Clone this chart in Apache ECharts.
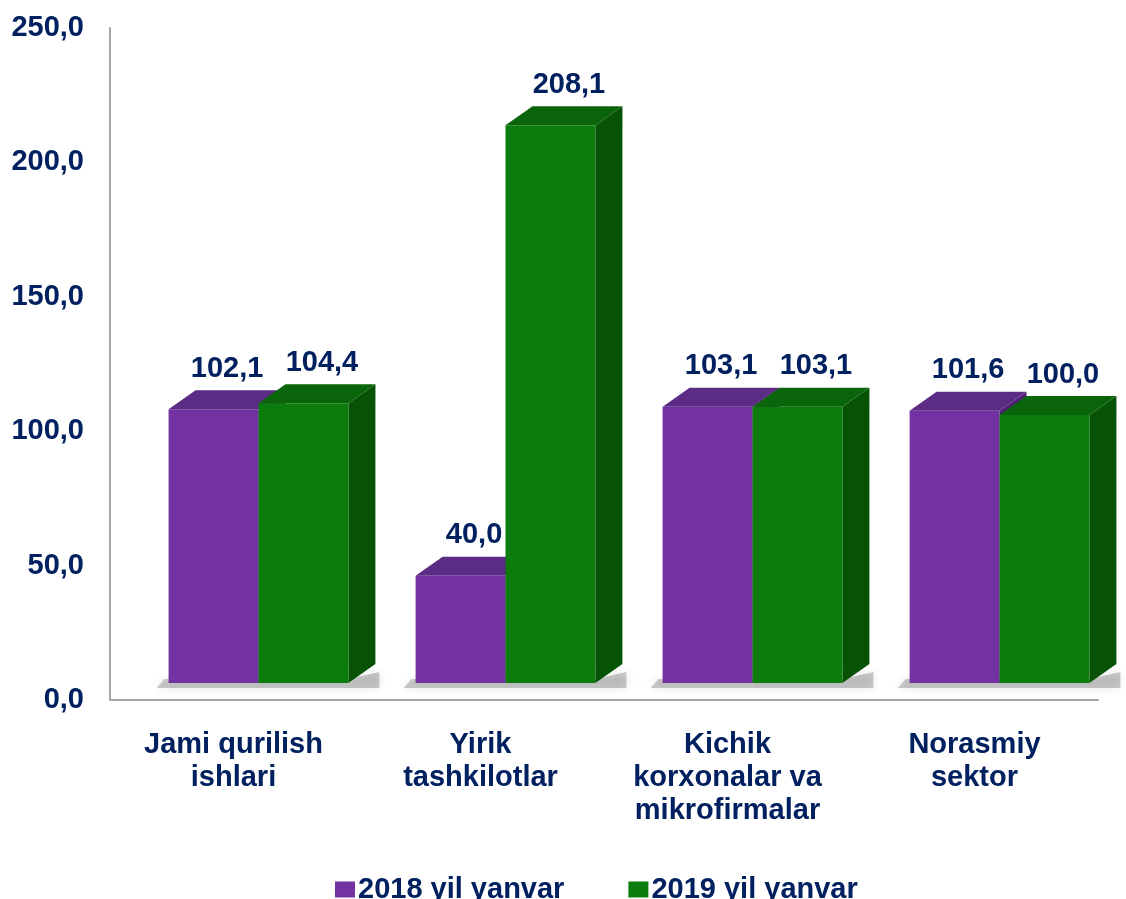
<!DOCTYPE html>
<html>
<head>
<meta charset="utf-8">
<script src="https://cdn.jsdelivr.net/npm/echarts@6/dist/echarts.min.js"></script>
<style>
  html, body { margin: 0; padding: 0; background: #fff; }
  #main { width: 1126px; height: 899px; }
</style>
</head>
<body>
<div id="main"></div>
<script>
// data
var categories = ['Jami qurilish\nishlari', 'Yirik\ntashkilotlar', 'Kichik\nkorxonalar va\nmikrofirmalar', 'Norasmiy\nsektor']
var values2018 = [102.1, 40.0, 103.1, 101.6]
var values2019 = [104.4, 208.1, 103.1, 100.0]
var seriesNames = ['2018 yil yanvar', '2019 yil yanvar']
var yMin = 0
var yMax = 250
var yStep = 50

var navy = '#002060'
var fontFam = '"Liberation Sans", Arial, sans-serif'
var fs = 29
// front, top, side
var purple = ['#7232a2', '#5c2b84', '#4e2272']
var green = ['#0c7c0c', '#0a650a', '#065306']

function fmt (v) {
  return v.toFixed(1).replace('.', ',')
}

function makeRender (idx, colors) {
  return function (params, api) {
    var cat = api.value(0)
    var v = api.value(1)
    var topPt = api.coord([cat, v])
    var basePt = api.coord([cat, 0])
    var band = api.size([1, 0])[0]
    var w = band * 0.364
    var dx = 27
    var dy = -19
    var x0 = idx === 0 ? topPt[0] - w : topPt[0]
    var ty = topPt[1]
    var by = basePt[1]
    var children = []
    if (idx === 0) {
      // soft floor shadow under the pair
      children.push({
        type: 'polygon',
        shape: { points: [[x0 - 12, by + 5], [x0 + 2 * w + dx + 4, by + 5], [x0 + 2 * w + dx + 4, by + dy + 8], [x0 + 2 * w, by - 4], [x0 - 4, by - 4]] },
        style: { fill: 'rgba(0,0,0,0.2)', shadowBlur: 10, shadowColor: 'rgba(0,0,0,0.5)' },
        silent: true
      })
    }
    children.push({
      type: 'polygon',
      shape: { points: [[x0 + w, ty], [x0 + w + dx, ty + dy], [x0 + w + dx, by + dy], [x0 + w, by]] },
      style: { fill: colors[2] }
    })
    children.push({
      type: 'polygon',
      shape: { points: [[x0, ty], [x0 + w, ty], [x0 + w + dx, ty + dy], [x0 + dx, ty + dy]] },
      style: { fill: colors[1] }
    })
    children.push({
      type: 'rect',
      shape: { x: x0, y: ty, width: w, height: by - ty },
      style: { fill: colors[0] }
    })
    children.push({
      type: 'text',
      style: {
        text: fmt(v),
        x: x0 + (w + dx) / 2 + (idx === 1 ? 5 : 0),
        y: ty + dy - 7,
        align: 'center',
        verticalAlign: 'bottom',
        fontSize: fs,
        fontWeight: 'bold',
        fontFamily: fontFam,
        fill: navy
      }
    })
    return { type: 'group', children: children }
  }
}

var myChart = echarts.init(document.getElementById('main'))
myChart.setOption({
  animation: false,
  textStyle: { fontFamily: fontFam },
  legend: {
    left: 330,
    top: 870,
    itemWidth: 20,
    itemHeight: 16,
    itemGap: 64,
    icon: 'rect',
    data: seriesNames,
    textStyle: { color: navy, fontSize: fs, fontWeight: 'bold', fontFamily: fontFam, padding: [0, 0, 0, -2] }
  },
  grid: [
    { left: 110, right: 28, top: 28, bottom: 199 },
    { left: 135, right: 3, top: 13, bottom: 216 }
  ],
  xAxis: [
    {
      type: 'category',
      gridIndex: 0,
      data: categories,
      axisLine: { show: true, lineStyle: { color: '#a6a6a6', width: 2 } },
      axisTick: { show: false },
      axisLabel: {
        color: navy,
        fontSize: fs,
        fontWeight: 'bold',
        fontFamily: fontFam,
        lineHeight: 33,
        margin: 28,
        interval: 0
      }
    },
    {
      type: 'category',
      gridIndex: 1,
      data: categories,
      show: false
    }
  ],
  yAxis: [
    {
      type: 'value',
      gridIndex: 0,
      min: yMin,
      max: yMax,
      interval: yStep,
      axisLine: { show: true, lineStyle: { color: '#a6a6a6', width: 2 } },
      axisTick: { show: false },
      splitLine: { show: false },
      axisLabel: {
        color: navy,
        fontSize: fs,
        fontWeight: 'bold',
        fontFamily: fontFam,
        margin: 26,
        formatter: function (v) { return fmt(v) }
      }
    },
    {
      type: 'value',
      gridIndex: 1,
      min: yMin,
      max: yMax,
      show: false
    }
  ],
  series: [
    {
      name: seriesNames[0],
      type: 'custom',
      xAxisIndex: 1,
      yAxisIndex: 1,
      itemStyle: { color: purple[0] },
      encode: { x: 0, y: 1 },
      data: values2018.map(function (v, i) { return [i, v] }),
      renderItem: makeRender(0, purple),
      z: 2
    },
    {
      name: seriesNames[1],
      type: 'custom',
      xAxisIndex: 1,
      yAxisIndex: 1,
      itemStyle: { color: green[0] },
      encode: { x: 0, y: 1 },
      data: values2019.map(function (v, i) { return [i, v] }),
      renderItem: makeRender(1, green),
      z: 3
    }
  ]
})
</script>
</body>
</html>
